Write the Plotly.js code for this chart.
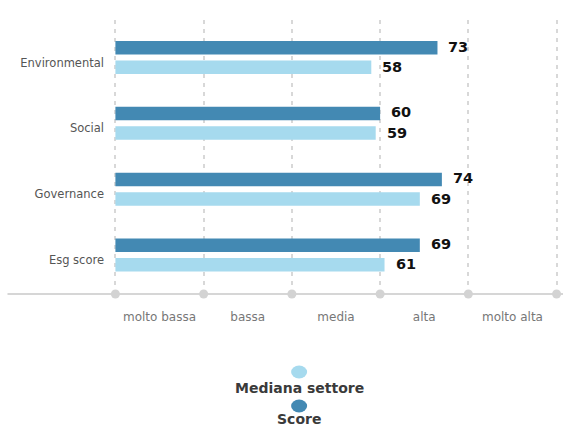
<!DOCTYPE html>
<html>
<head>
<meta charset="utf-8">
<script src="https://cdn.plot.ly/plotly-3.0.1.min.js"></script>
<style>html,body{margin:0;padding:0;background:#fff;}#chart{width:563px;height:426px;}</style>
</head>
<body>
<div id="chart"></div>
<script>
// Data
const categories = ['Environmental', 'Social', 'Governance', 'Esg score'];
const seriesNames = ['Mediana settore', 'Score'];
const medianaValues = [58, 59, 69, 61];
const scoreValues = [73, 60, 74, 69];
const levelLabels = ['molto bassa', 'bassa', 'media', 'alta', 'molto alta'];
const levelCenters = [10, 30, 50, 70, 90];
const gridVals = [0, 20, 40, 60, 80, 100];

const colors = {mediana: '#a6daee', score: '#4389b3'};
const catOrder = categories.slice().reverse();

const traces = [
  {type: 'bar', orientation: 'h', name: seriesNames[0], y: categories, x: medianaValues,
   marker: {color: colors.mediana}, hoverinfo: 'x', showlegend: false},
  {type: 'bar', orientation: 'h', name: seriesNames[1], y: categories, x: scoreValues,
   marker: {color: colors.score}, hoverinfo: 'x', showlegend: false},
  {type: 'scatter', mode: 'markers', x: gridVals, y: gridVals.map(() => 0), yaxis: 'y2',
   marker: {color: '#d3d3d3', size: 9}, cliponaxis: false, showlegend: false, hoverinfo: 'skip'}
];

const annotations = [];
const valueFont = {family: 'DejaVu Sans', size: 14.5, color: '#111', weight: 'bold'};
categories.forEach((c, i) => {
  annotations.push({x: scoreValues[i], y: c, xref: 'x', yref: 'y', text: String(scoreValues[i]),
    showarrow: false, xanchor: 'left', xshift: 9, yshift: 11, font: valueFont});
  annotations.push({x: medianaValues[i], y: c, xref: 'x', yref: 'y', text: String(medianaValues[i]),
    showarrow: false, xanchor: 'left', xshift: 9, yshift: -9.5, font: valueFont});
});

// custom legend (marker above label)
const legendY = [{dot: -0.2847, text: -0.3431}, {dot: -0.4088, text: -0.4562}];
const legendColors = [colors.mediana, colors.score];
const shapes = [
  {type: 'line', xref: 'paper', yref: 'paper', x0: -0.23, x1: 1.05, y0: 0, y1: 0,
   line: {color: '#d6d6d6', width: 2}, layer: 'below'}
];
seriesNames.forEach((n, i) => {
  shapes.push({type: 'circle', xref: 'paper', yref: 'paper', xsizemode: 'pixel', ysizemode: 'pixel',
    xanchor: 0.418, yanchor: legendY[i].dot, x0: -8, x1: 8, y0: -6.5, y1: 6.5,
    fillcolor: legendColors[i], line: {width: 0}});
  annotations.push({xref: 'paper', yref: 'paper', x: 0.418, y: legendY[i].text, text: n,
    showarrow: false, xanchor: 'center', yanchor: 'middle',
    font: {family: 'DejaVu Sans', size: 14, color: '#3a3a3a', weight: 'bold'}});
});

const layout = {
  width: 563, height: 426,
  margin: {l: 111, r: 2, t: 20, b: 132},
  paper_bgcolor: '#fff', plot_bgcolor: '#fff',
  barmode: 'group', bargap: 0.407, bargroupgap: 0.308,
  showlegend: false,
  xaxis: {range: [-1, 101], tickmode: 'array', tickvals: levelCenters, ticktext: levelLabels,
    showgrid: false, zeroline: false, showline: false, ticks: '', ticklabelstandoff: 14,
    tickfont: {family: 'DejaVu Sans', size: 12, color: '#777'},
    minor: {tickmode: 'array', tickvals: gridVals, showgrid: true, gridcolor: '#d8d8d8',
      griddash: '4px,5px', gridwidth: 2, ticks: ''}},
  yaxis: {type: 'category', categoryorder: 'array', categoryarray: catOrder,
    range: [-0.593, 3.57], showgrid: false, zeroline: false, showline: false, ticks: '',
    ticklabelstandoff: 6, ticklabelshift: 5,
    tickfont: {family: 'DejaVu Sans', size: 11.5, color: '#555'}},
  yaxis2: {overlaying: 'y', range: [0, 1], visible: false, fixedrange: true},
  shapes: shapes,
  annotations: annotations
};

Plotly.newPlot('chart', traces, layout, {displayModeBar: false, staticPlot: true});
</script>
</body>
</html>
